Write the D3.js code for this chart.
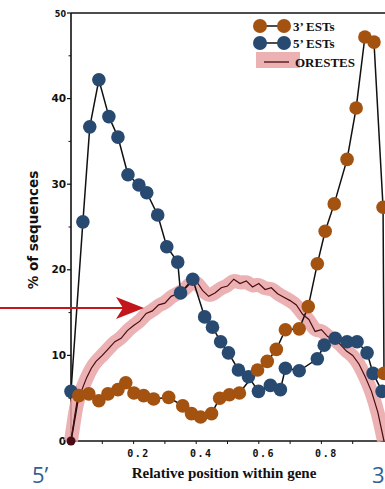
<!DOCTYPE html>
<html>
<head>
<meta charset="utf-8">
<script src="https://cdn.jsdelivr.net/npm/d3@7"></script>
<style>
  body { margin: 0; background: #fff; }
  svg { display: block; }
</style>
</head>
<body>
<div id="chart"></div>
<script>
// 5' ESTs (blue markers), [relative position, % of sequences]
const est5 = [
  [0.0, 5.8], [0.038, 25.6], [0.06, 36.7], [0.089, 42.2], [0.121, 37.9],
  [0.15, 35.5], [0.182, 31.1], [0.217, 29.9], [0.242, 29.0], [0.277, 26.4],
  [0.306, 22.7], [0.341, 20.9], [0.35, 17.3], [0.389, 18.9], [0.427, 14.5],
  [0.452, 13.3], [0.478, 11.6], [0.503, 10.3], [0.535, 8.3], [0.567, 7.5],
  [0.599, 5.8], [0.637, 6.5], [0.669, 6.0], [0.685, 8.5], [0.729, 8.2],
  [0.787, 9.6], [0.809, 11.2], [0.844, 12.0], [0.882, 11.6], [0.914, 11.6],
  [0.946, 10.3], [0.965, 7.9], [0.994, 5.8]
];

// 3' ESTs (orange markers)
const est3 = [
  [0.0, 0.0], [0.025, 5.3], [0.057, 5.5], [0.089, 4.7], [0.118, 5.5],
  [0.15, 6.0], [0.175, 6.8], [0.201, 5.6], [0.232, 5.3], [0.264, 4.9],
  [0.312, 5.1], [0.357, 4.1], [0.385, 3.2], [0.414, 2.8], [0.449, 3.2],
  [0.475, 5.0], [0.506, 5.4], [0.538, 5.6], [0.596, 8.3], [0.627, 9.3],
  [0.656, 10.7], [0.685, 13.0], [0.729, 13.1], [0.758, 15.7], [0.787, 20.7],
  [0.812, 24.5], [0.841, 27.7], [0.882, 32.9], [0.911, 38.9], [0.939, 47.2],
  [0.968, 46.6], [0.997, 27.3], [1.0, 7.9]
];

// ORESTES profile (thin dark line, smoothed pink band behind it)
const orestes = [
  [0, 0], [0.01, 2.5], [0.02, 4.8], [0.035, 6.0], [0.05, 7.4], [0.065, 8.5],
  [0.08, 9.3], [0.1, 10.0], [0.12, 10.8], [0.14, 11.6], [0.16, 12.0],
  [0.18, 12.9], [0.2, 13.5], [0.22, 14.0], [0.24, 14.9], [0.26, 15.2],
  [0.28, 15.9], [0.3, 16.1], [0.32, 16.9], [0.34, 17.2], [0.36, 17.6],
  [0.38, 18.4], [0.4, 18.7], [0.42, 17.6], [0.44, 16.9], [0.46, 17.3],
  [0.48, 17.9], [0.5, 18.1], [0.52, 18.9], [0.54, 18.4], [0.56, 18.7],
  [0.58, 18.0], [0.6, 18.4], [0.62, 17.7], [0.64, 17.9], [0.66, 17.2],
  [0.68, 16.8], [0.7, 16.4], [0.72, 15.9], [0.74, 14.8], [0.76, 14.2],
  [0.78, 12.8], [0.8, 13.0], [0.82, 12.2], [0.84, 11.9], [0.86, 11.3],
  [0.88, 10.5], [0.9, 10.0], [0.92, 9.0], [0.94, 7.5], [0.96, 5.8],
  [0.98, 3.4], [1.0, 0]
];

const xTicks = [0, 0.1, 0.2, 0.3, 0.4, 0.5, 0.6, 0.7, 0.8, 0.9];
const xLabels = [0.2, 0.4, 0.6, 0.8];
const yTicks = [0, 10, 20, 30, 40, 50];
const yMinor = [5, 15, 25, 35, 45];

const legendItems = ["3\u2019 ESTs", "5\u2019 ESTs", "ORESTES"];

const W = 385, H = 489;
const blue = "#284a70", orange = "#a4520f", pink = "#e7a3a6", maroon = "#4a0c12";

const svg = d3.select("#chart")
    .append("svg")
    .attr("width", W)
    .attr("height", H);

svg.append("rect").attr("width", W).attr("height", H).attr("fill", "#fff");

// Scales
const x = d3.scaleLinear().domain([0, 1]).range([71, 384]);
const y = d3.scaleLinear().domain([0, 50]).range([441, 13]);

// Frame: left axis, top and bottom lines
svg.append("line")
    .attr("x1", x(0)).attr("x2", W).attr("y1", y(50)).attr("y2", y(50))
    .attr("stroke", "#111").attr("stroke-width", 1.6);
svg.append("line")
    .attr("x1", x(0)).attr("x2", W).attr("y1", y(0)).attr("y2", y(0))
    .attr("stroke", "#111").attr("stroke-width", 1.4);
svg.append("line")
    .attr("x1", x(0)).attr("x2", x(0)).attr("y1", y(50)).attr("y2", y(0))
    .attr("stroke", "#111").attr("stroke-width", 1.6);

// Y ticks
svg.selectAll(".ytick")
    .data(yTicks)
    .enter().append("line")
    .attr("x1", x(0) - 4).attr("x2", x(0))
    .attr("y1", d => y(d)).attr("y2", d => y(d))
    .attr("stroke", "#111").attr("stroke-width", 1.2);
svg.selectAll(".yminor")
    .data(yMinor)
    .enter().append("line")
    .attr("x1", x(0) - 2.5).attr("x2", x(0))
    .attr("y1", d => y(d)).attr("y2", d => y(d))
    .attr("stroke", "#111").attr("stroke-width", 1);
svg.selectAll(".ylab")
    .data(yTicks)
    .enter().append("text")
    .attr("x", x(0) - 5)
    .attr("y", d => y(d) + 3.5)
    .attr("text-anchor", "end")
    .attr("font-family", "DejaVu Sans, sans-serif")
    .attr("font-weight", "bold")
    .attr("font-size", d => d === 50 ? 8 : 10.5)
    .attr("fill", "#111")
    .text(d => d);

// X ticks
svg.selectAll(".xtick")
    .data(xTicks)
    .enter().append("line")
    .attr("x1", d => x(d)).attr("x2", d => x(d))
    .attr("y1", y(0)).attr("y2", y(0) + 3)
    .attr("stroke", "#111").attr("stroke-width", 1);
svg.selectAll(".xlab")
    .data(xLabels)
    .enter().append("text")
    .attr("x", d => x(d) + 5)
    .attr("y", 457)
    .attr("text-anchor", "middle")
    .attr("font-family", "DejaVu Sans Mono, monospace")
    .attr("font-weight", "bold")
    .attr("font-size", 10)
    .attr("letter-spacing", 1.5)
    .attr("fill", "#111")
    .text(d => d.toFixed(1));

// Axis titles
svg.append("text")
    .attr("transform", "translate(38,230) rotate(-90)")
    .attr("text-anchor", "middle")
    .attr("font-family", "DejaVu Sans, sans-serif")
    .attr("font-weight", "bold")
    .attr("font-size", 13.5)
    .attr("fill", "#111")
    .text("% of sequences");

svg.append("text")
    .attr("x", 224)
    .attr("y", 478)
    .attr("text-anchor", "middle")
    .attr("font-family", "Liberation Serif, serif")
    .attr("font-weight", "bold")
    .attr("font-size", 15)
    .attr("fill", "#111")
    .text("Relative position within gene");

// 5' / 3' end markers
svg.append("text")
    .attr("x", 32).attr("y", 483)
    .attr("font-family", "Open Sans, sans-serif")
    .attr("font-size", 22)
    .attr("fill", "#2f5f96")
    .text("5\u2019");
svg.append("text")
    .attr("x", 372).attr("y", 483)
    .attr("font-family", "Open Sans, sans-serif")
    .attr("font-size", 22)
    .attr("fill", "#2f5f96")
    .text("3");

// ORESTES band + line
const line = d3.line().x(d => x(d[0])).y(d => y(d[1]));
const smooth = d3.line().x(d => x(d[0])).y(d => y(d[1])).curve(d3.curveBasis);

svg.append("path")
    .datum(orestes)
    .attr("d", smooth)
    .attr("fill", "none")
    .attr("stroke", pink)
    .attr("stroke-opacity", 0.85)
    .attr("stroke-width", 14)
    .attr("stroke-linecap", "butt")
    .attr("stroke-linejoin", "round");

// EST lines and markers
function drawSeries(data) {
    svg.append("path")
        .datum(data)
        .attr("d", line)
        .attr("fill", "none")
        .attr("stroke", "#111")
        .attr("stroke-width", 1.5);
}
drawSeries(est5);
drawSeries(est3);

svg.append("path")
    .datum(orestes)
    .attr("d", line)
    .attr("fill", "none")
    .attr("stroke", maroon)
    .attr("stroke-width", 1.2);

svg.selectAll(".m5")
    .data(est5)
    .enter().append("circle")
    .attr("cx", d => x(d[0]))
    .attr("cy", d => y(d[1]))
    .attr("r", 6.8)
    .attr("fill", blue);

svg.selectAll(".m3")
    .data(est3)
    .enter().append("circle")
    .attr("cx", d => x(d[0]))
    .attr("cy", d => y(d[1]))
    .attr("r", d => d[1] === 0 ? 4.5 : 6.8)
    .attr("fill", d => d[1] === 0 ? maroon : orange);

// Red arrow pointing at the ORESTES band
svg.append("line")
    .attr("x1", 0).attr("x2", 125)
    .attr("y1", 308).attr("y2", 308)
    .attr("stroke", "#c3151c").attr("stroke-width", 2.2);
svg.append("path")
    .attr("d", "M144,308 L116,297 L123,308 L116,319 Z")
    .attr("fill", "#c3151c");

// Legend
const lg = svg.append("g");
const legendRows = [
    { text: legendItems[0], color: orange, y: 26 },
    { text: legendItems[1], color: blue, y: 43 }
];
legendRows.forEach(r => {
    lg.append("line")
        .attr("x1", 260).attr("x2", 284).attr("y1", r.y).attr("y2", r.y)
        .attr("stroke", "#111").attr("stroke-width", 1.5);
    lg.append("circle").attr("cx", 260).attr("cy", r.y).attr("r", 7).attr("fill", r.color);
    lg.append("circle").attr("cx", 284).attr("cy", r.y).attr("r", 7).attr("fill", r.color);
    lg.append("text")
        .attr("x", 293).attr("y", r.y + 5)
        .attr("font-family", "Liberation Serif, serif")
        .attr("font-weight", "bold")
        .attr("font-size", 13)
        .attr("fill", "#111")
        .text(r.text);
});
lg.append("rect")
    .attr("x", 256).attr("y", 52).attr("width", 44).attr("height", 16)
    .attr("fill", pink).attr("fill-opacity", 0.85);
lg.append("line")
    .attr("x1", 264).attr("x2", 289).attr("y1", 62).attr("y2", 62)
    .attr("stroke", maroon).attr("stroke-width", 1.3);
lg.append("text")
    .attr("x", 295).attr("y", 67)
    .attr("font-family", "Liberation Serif, serif")
    .attr("font-weight", "bold")
    .attr("font-size", 13)
    .attr("fill", "#111")
    .text(legendItems[2]);
</script>
</body>
</html>
